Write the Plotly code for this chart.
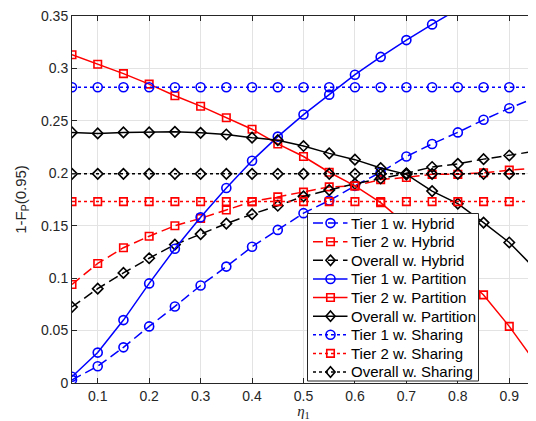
import plotly.graph_objects as go

eta = [0.05, 0.10, 0.15, 0.20, 0.25, 0.30, 0.35, 0.40, 0.45, 0.50,
       0.55, 0.60, 0.65, 0.70, 0.75, 0.80, 0.85, 0.90, 0.95]

tier1_hybrid = [0.003, 0.016, 0.034, 0.054, 0.073, 0.093, 0.111, 0.130, 0.146, 0.162,
                0.174, 0.188, 0.201, 0.216, 0.228, 0.239, 0.251, 0.262, 0.272]
tier2_hybrid = [0.094, 0.114, 0.129, 0.140, 0.150, 0.157, 0.165, 0.173, 0.1775, 0.182,
                0.187, 0.188, 0.194, 0.196, 0.199, 0.199, 0.2005, 0.203, 0.205]
overall_hybrid = [0.0725, 0.090, 0.105, 0.119, 0.132, 0.142, 0.152, 0.161, 0.169, 0.178,
                  0.184, 0.190, 0.195, 0.200, 0.206, 0.209, 0.2135, 0.217, 0.221]

tier1_partition = [0.006, 0.029, 0.060, 0.095, 0.128, 0.158, 0.186, 0.212, 0.235, 0.256,
                   0.275, 0.294, 0.311, 0.327, 0.342, 0.357, 0.371, 0.385, 0.398]
tier2_partition = [0.313, 0.304, 0.295, 0.285, 0.274, 0.264, 0.253, 0.242, 0.228, 0.216,
                   0.201, 0.188, 0.172, 0.151, 0.129, 0.107, 0.084, 0.054, 0.020]
overall_partition = [0.239, 0.238, 0.239, 0.239, 0.2395, 0.2386, 0.237, 0.234, 0.2316, 0.226,
                     0.219, 0.213, 0.205, 0.199, 0.183, 0.171, 0.153, 0.134, 0.109]

tier1_sharing = [0.282] * 19
tier2_sharing = [0.173] * 19
overall_sharing = [0.1995] * 19

x_ticks = [0.1, 0.2, 0.3, 0.4, 0.5, 0.6, 0.7, 0.8, 0.9]
x_tick_labels = ["0.1", "0.2", "0.3", "0.4", "0.5", "0.6", "0.7", "0.8", "0.9"]
y_ticks = [0, 0.05, 0.1, 0.15, 0.2, 0.25, 0.3, 0.35]
y_tick_labels = ["0", "0.05", "0.1", "0.15", "0.2", "0.25", "0.3", "0.35"]

series_names = ["Tier 1 w. Hybrid", "Tier 2 w. Hybrid", "Overall w. Hybrid",
                "Tier 1 w. Partition", "Tier 2 w. Partition", "Overall w. Partition",
                "Tier 1 w. Sharing", "Tier 2 w. Sharing", "Overall w. Sharing"]
series_values = [tier1_hybrid, tier2_hybrid, overall_hybrid,
                 tier1_partition, tier2_partition, overall_partition,
                 tier1_sharing, tier2_sharing, overall_sharing]

DASH = "10px,5px"
BLUE, RED, BLACK = "#0000FF", "#FF0000", "#000000"
styles = [
    (BLUE, DASH, "circle"), (RED, DASH, "square"), (BLACK, DASH, "diamond"),
    (BLUE, "solid", "circle"), (RED, "solid", "square"), (BLACK, "solid", "diamond"),
    (BLUE, "dot", "circle"), (RED, "dot", "square"), (BLACK, "dot", "diamond"),
]
marker_size = {"circle": 9, "square": 7.5, "diamond": 8}

fig = go.Figure()
for name, ys, (color, dash, sym) in zip(series_names, series_values, styles):
    fig.add_trace(go.Scatter(
        x=eta, y=ys, name=name, mode="lines+markers", showlegend=False,
        line=dict(color=color, width=1.5, dash=dash),
        marker=dict(symbol=sym + "-open", size=marker_size[sym], color=color,
                    line=dict(width=1.6, color=color)),
    ))

axis_common = dict(
    showline=True, linecolor="#262626", linewidth=1, mirror="ticks",
    ticks="inside", ticklen=5, tickcolor="#262626",
    showgrid=True, gridcolor="#E3E3E3", gridwidth=1,
    zeroline=False, ticklabeloverflow="allow",
    tickfont=dict(family="Liberation Sans, Arial", size=14, color="#262626"),
)

fig.update_xaxes(range=[0.05, 0.95], tickvals=x_ticks, ticktext=x_tick_labels,
                 title=dict(text="<i>η</i><sub>1</sub>", standoff=0,
                            font=dict(family="Liberation Serif, Times New Roman", size=15, color="#262626")),
                 **axis_common)
fig.update_yaxes(range=[0, 0.35], tickvals=y_ticks, ticktext=y_tick_labels,
                 title=dict(text="1-F<sub>P</sub>(0.95)", standoff=10,
                            font=dict(family="Liberation Sans, Arial", size=15, color="#262626")),
                 **axis_common)

# ---- legend box drawn with layout shapes / annotations (page-pixel layout) ----
PL, PR, PT, PB = 72, 535, 16, 383
def xp(px):
    return (px - PL) / (PR - PL)
def yp(py):
    return (PB - py) / (PB - PT)

box_l, box_r, box_t, box_b = 307.5, 478.5, 213.5, 381
shapes = [dict(type="rect", xref="paper", yref="paper",
               x0=xp(box_l), x1=xp(box_r), y0=yp(box_b), y1=yp(box_t),
               fillcolor="white", line=dict(color="#262626", width=1), layer="above")]
annotations = []
row_h = (box_b - box_t) / 9
for i, (name, (color, dash, sym)) in enumerate(zip(series_names, styles)):
    cy = box_t + row_h * (i + 0.5) + 0.3
    shapes.append(dict(type="line", xref="paper", yref="paper",
                       x0=xp(313), x1=xp(347.5), y0=yp(cy), y1=yp(cy),
                       line=dict(color=color, width=1.5, dash=dash), layer="above"))
    common = dict(xref="paper", yref="paper", xsizemode="pixel", ysizemode="pixel",
                  xanchor=xp(330.5), yanchor=yp(cy), layer="above",
                  line=dict(color=color, width=1.6), fillcolor="rgba(0,0,0,0)")
    if sym == "circle":
        shapes.append(dict(type="circle", x0=-4.5, x1=4.5, y0=-4.5, y1=4.5, **common))
    elif sym == "square":
        shapes.append(dict(type="rect", x0=-3.75, x1=3.75, y0=-3.75, y1=3.75, **common))
    else:
        shapes.append(dict(type="path", path="M 0,5.2 L 4.6,0 L 0,-5.2 L -4.6,0 Z", **common))
    annotations.append(dict(xref="paper", yref="paper", x=xp(348.5), y=yp(cy),
                            xanchor="left", yanchor="middle", showarrow=False, text=name,
                            font=dict(family="Liberation Sans, Arial", size=15, color="#000000")))

fig.update_layout(
    width=528, height=413,
    margin=dict(l=64, r=1, t=8, b=38, autoexpand=False),
    plot_bgcolor="white", paper_bgcolor="white",
    showlegend=False,
    shapes=shapes, annotations=annotations,
)

fig.write_html("out.html")
